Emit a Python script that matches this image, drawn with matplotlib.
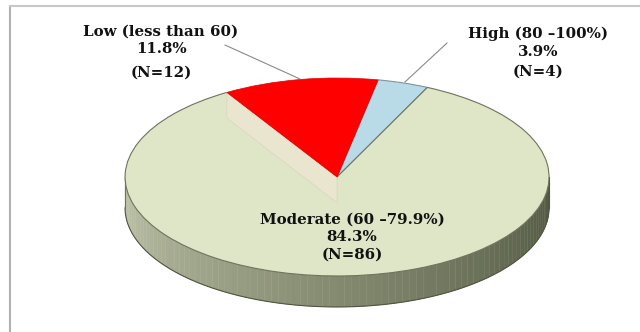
import numpy as np
import matplotlib.pyplot as plt
from matplotlib.patches import Polygon
from matplotlib.lines import Line2D

# ── Data ──────────────────────────────────────────────────────────────────────
labels   = ['High (80 –100%)', 'Low (less than 60)', 'Moderate (60 –79.9%)']
percents = [3.9, 11.8, 84.3]
counts   = [4, 12, 86]
colors   = ['#b9dbe8', '#ff0000', '#dfe6c7']

# ── Figure ────────────────────────────────────────────────────────────────────
W, H = 640, 332
fig = plt.figure(figsize=(W / 100, H / 100), dpi=100)
fig.patch.set_facecolor('white')
ax = fig.add_axes([0, 0, 1, 1])

wedges, _ = ax.pie(percents, colors=colors, startangle=64.8, counterclock=True,
                   radius=1.0, wedgeprops=dict(linewidth=0.8, edgecolor='#6e735c'))
ax.set_aspect('auto')
ax.set_xlim(-1.590, 1.429)      # squash the pie into an ellipse (3D look)
ax.set_ylim(-1.566, 1.788)
ax.axis('off')

high_w, low_w, mod_w = wedges
high_w.set_edgecolor('#7d95a0')
low_w.set_edgecolor('#e00000')
low_w.set_linewidth(0.5)
for w in wedges:
    w.set_zorder(3)
low_w.set_zorder(5)

# side wall of the front half, shaded left -> right
depth = 0.313
c_left  = np.array([192, 197, 172]) / 255
c_mid   = np.array([132, 138, 112]) / 255
c_right = np.array([78, 85, 63]) / 255
angles = np.linspace(180, 360, 91)
for a0, a1 in zip(angles[:-1], angles[1:]):
    t = np.radians(np.linspace(a0, a1, 4))
    xs, ys = np.cos(t), np.sin(t)
    poly = np.column_stack([np.r_[xs, xs[::-1]], np.r_[ys, ys[::-1] - depth]])
    f = ((a0 + a1) / 2 - 180) / 180
    col = c_left + (c_mid - c_left) * f * 2 if f < 0.5 else c_mid + (c_right - c_mid) * (f - 0.5) * 2
    ax.add_patch(Polygon(poly, closed=True, facecolor=col, edgecolor=col, lw=0.3, zorder=2))
# outline of the wall
t = np.radians(np.linspace(180, 360, 200))
ax.plot(np.cos(t), np.sin(t) - depth, color='#4f5540', lw=0.8, zorder=2)
ax.plot([-1, -1], [0, -depth], color='#6e735c', lw=0.8, zorder=2)
ax.plot([1, 1], [0, -depth], color='#4f5540', lw=0.8, zorder=2)

# radial face under the left edge of the "Low" slice
fd = 0.26
ta = np.radians(low_w.theta2)
face = [(0, 0), (np.cos(ta), np.sin(ta)), (np.cos(ta), np.sin(ta) - fd), (0, -fd)]
ax.add_patch(Polygon(face, closed=True, facecolor='#e9e5cf', edgecolor='#d9d6bd',
                     lw=0.5, zorder=4))

# ── Labels ────────────────────────────────────────────────────────────────────
font = dict(family='DejaVu Serif', weight='bold', fontsize=10.8, color='#111111',
            ha='center', va='center')
label_pos = {
    0: (538, [34, 52, 72]),
    1: (161, [32, 49, 73]),
    2: (352, [220, 237, 255]),
}
for i, (xc, ys) in label_pos.items():
    lines = [labels[i], f'{percents[i]}%', f'(N={counts[i]})']
    for txt, y in zip(lines, ys):
        fig.text(xc / W, 1 - y / H, txt, zorder=10, **font)

# leader lines
for (x1, y1), (x2, y2) in [((225, 45), (300, 79)), ((447, 43), (405, 82))]:
    fig.add_artist(Line2D([x1 / W, x2 / W], [1 - y1 / H, 1 - y2 / H],
                          color='#8a8a8a', lw=0.8, zorder=6))

# chart frame (left and top edges visible)
fig.add_artist(Line2D([9.5 / W, 9.5 / W], [0, 1 - 6 / H], color='#b0b0b0', lw=1.5))
fig.add_artist(Line2D([9.5 / W, 1], [1 - 6 / H, 1 - 6 / H], color='#c8c8c8', lw=1.5))

fig.savefig('out.png', dpi=100, facecolor='white')
